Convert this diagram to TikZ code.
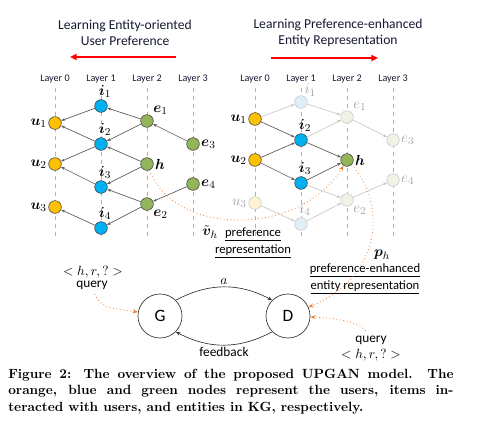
\documentclass[tikz,border=0pt]{standalone}
\usepackage{amsmath,amssymb}
\usepackage{bm}
\usepackage{fontspec}
\newfontfamily\carlito{Carlito}
\usetikzlibrary{arrows.meta}

\definecolor{ucol}{HTML}{FFC000}
\definecolor{icol}{HTML}{00B0F0}
\definecolor{ecol}{HTML}{93B55A}
\definecolor{ufade}{HTML}{FFF3D1}
\definecolor{ifade}{HTML}{E0EEF8}
\definecolor{efade}{HTML}{EEF3E3}
\definecolor{rimcol}{HTML}{404040}
\definecolor{fadecol}{HTML}{C8C8C8}
\definecolor{edgecol}{HTML}{5A5A5A}
\definecolor{hintcol}{HTML}{ED7D31}
\definecolor{textcol}{HTML}{141A30}
\definecolor{labgray}{HTML}{A6A6A6}

\tikzset{
  vtx/.style={circle, draw=rimcol, line width=0.4pt, minimum size=9.5pt, inner sep=0pt},
  user/.style={vtx, fill=ucol},
  itemv/.style={vtx, fill=icol},
  ent/.style={vtx, fill=ecol},
  fuser/.style={vtx, draw=fadecol, fill=ufade},
  fitem/.style={vtx, draw=fadecol, fill=ifade},
  fent/.style={vtx, draw=fadecol, fill=efade},
  lab/.style={font=\fontsize{11}{12}\selectfont, inner sep=1pt},
  flab/.style={lab, text=labgray},
  lnk/.style={draw=edgecol, line width=0.5pt, -{Stealth[length=3pt,width=2.2pt]}},
  flnk/.style={draw=fadecol, line width=0.5pt, -{Stealth[length=3pt,width=2.2pt]}},
  guide/.style={draw=gray!60, dashed, line width=0.4pt},
  layerlab/.style={font=\carlito\fontsize{7.6}{8}\selectfont, text=textcol},
  titletext/.style={font=\carlito\fontsize{10.2}{12}\selectfont, text=textcol, align=center},
  txt/.style={font=\carlito\fontsize{10}{12}\selectfont, text=black, align=center},
  hint/.style={draw=hintcol, dotted, line width=0.6pt, -{Stealth[length=4pt,width=3pt]}},
  agent/.style={circle, draw=black!80, line width=0.5pt, minimum size=33pt, font=\carlito\fontsize{13}{14}\selectfont},
  gd/.style={draw=black!80, line width=0.5pt, -{Stealth[length=3.5pt,width=2.6pt]}},
  capbox/.style={font=\bfseries\fontsize{10}{12.2}\selectfont, text width=334pt, align=justify, anchor=north west, inner sep=0pt}
}

\begin{document}
\begin{tikzpicture}[x=0.75pt,y=0.75pt]
  \useasboundingbox (0,0) rectangle (477,-435);

  % Titles and direction arrows
  \node[titletext] (tleft) at (125,-33) {Learning Entity-oriented\\User Preference};
  \node[titletext] (tright) at (338,-33) {Learning Preference-enhanced\\Entity Representation};
  \coordinate (la) at (176,-57);
  \coordinate (lb) at (70,-57);
  \coordinate (ra) at (271,-58);
  \coordinate (rb) at (378,-58);
  \draw[red, line width=1.4pt, -{Triangle[length=5pt,width=4.5pt]}] (la) -- (lb);
  \draw[red, line width=1.4pt, -{Triangle[length=5pt,width=4.5pt]}] (ra) -- (rb);

  % Layer columns
  \foreach \k/\lx in {0/55,1/101,2/147,3/193} {
    \node[layerlab] (Ll\k) at (\lx,-79) {Layer \k};
    \draw[guide] (Ll\k.south) -- (\lx,-238);
    \node[layerlab] (Rl\k) at (\lx+200,-79) {Layer \k};
    \draw[guide] (Rl\k.south) -- (\lx+200,-238);
  }

  % Left graph
  \node[user, label={[lab]left:$\bm{u}_1$}] (Lu1) at (55,-123) {};
  \node[user, label={[lab]left:$\bm{u}_2$}] (Lu2) at (55,-164) {};
  \node[user, label={[lab]left:$\bm{u}_3$}] (Lu3) at (55,-207) {};
  \node[itemv, label={[lab,xshift=3pt]above:$\bm{i}_1$}] (Li1) at (101,-106) {};
  \node[itemv, label={[lab,xshift=3pt]above:$\bm{i}_2$}] (Li2) at (101,-144) {};
  \node[itemv, label={[lab,xshift=3pt]above:$\bm{i}_3$}] (Li3) at (101,-187) {};
  \node[itemv, label={[lab,xshift=3pt]above:$\bm{i}_4$}] (Li4) at (101,-228) {};
  \node[ent, label={[lab]above right:$\bm{e}_1$}] (Le1) at (147,-121) {};
  \node[ent, label={[lab]right:$\bm{h}$}] (Lh) at (147,-164) {};
  \node[ent, label={[lab]below right:$\bm{e}_2$}] (Le2) at (147,-204) {};
  \node[ent, label={[lab]right:$\bm{e}_3$}] (Le3) at (193,-144) {};
  \node[ent, label={[lab]right:$\bm{e}_4$}] (Le4) at (193,-184) {};

  \draw[lnk] (Li1) -- (Lu1);
  \draw[lnk] (Le1) -- (Li1);
  \draw[lnk] (Li2) -- (Lu1);
  \draw[lnk] (Le1) -- (Li2);
  \draw[lnk] (Le3) -- (Le1);
  \draw[lnk] (Li2) -- (Lu2);
  \draw[lnk] (Lh) -- (Li2);
  \draw[lnk] (Li3) -- (Lu2);
  \draw[lnk] (Lh) -- (Li3);
  \draw[lnk] (Le2) -- (Li3);
  \draw[lnk] (Le4) -- (Le2);
  \draw[lnk] (Li4) -- (Lu3);
  \draw[lnk] (Le2) -- (Li4);

  \node[lab] (vh) at (210,-232) {$\tilde{\bm{v}}_h$};

  % Right graph
  \begin{scope}[shift={(200,4)}]
    \node[user, label={[lab]left:$\bm{u}_1$}] (Ru1) at (55,-123) {};
    \node[user, label={[lab]left:$\bm{u}_2$}] (Ru2) at (55,-164) {};
    \node[fuser, label={[flab]left:$u_3$}] (Ru3) at (55,-207) {};
    \node[fitem, label={[flab,inner sep=0pt]60:$i_1$}] (Ri1) at (101,-106) {};
    \node[itemv, label={[lab,xshift=3pt]above:$\bm{i}_2$}] (Ri2) at (101,-144) {};
    \node[itemv, label={[lab,xshift=3pt]above:$\bm{i}_3$}] (Ri3) at (101,-187) {};
    \node[fitem, label={[flab,xshift=3pt]above:$i_4$}] (Ri4) at (101,-228) {};
    \node[fent, label={[flab]above right:$e_1$}] (Re1) at (147,-121) {};
    \node[ent, label={[lab]right:$\bm{h}$}] (Rh) at (147,-164) {};
    \node[fent, label={[flab]below right:$e_2$}] (Re2) at (147,-204) {};
    \node[fent, label={[flab]right:$e_3$}] (Re3) at (193,-144) {};
    \node[fent, label={[flab]right:$e_4$}] (Re4) at (193,-184) {};
  \end{scope}

  \draw[flnk] (Ru1) -- (Ri1);
  \draw[flnk] (Ri1) -- (Re1);
  \draw[lnk] (Ru1) -- (Ri2);
  \draw[flnk] (Ri2) -- (Re1);
  \draw[flnk] (Re1) -- (Re3);
  \draw[lnk] (Ru2) -- (Ri2);
  \draw[lnk] (Ri2) -- (Rh);
  \draw[lnk] (Ru2) -- (Ri3);
  \draw[lnk] (Ri3) -- (Rh);
  \draw[flnk] (Ri3) -- (Re2);
  \draw[flnk] (Re2) -- (Re4);
  \draw[flnk] (Ru3) -- (Ri4);
  \draw[flnk] (Ri4) -- (Re2);

  % Representation labels
  \node[txt, font=\carlito\fontsize{9.5}{13}\selectfont] (pref) at (253,-243) {\underline{preference}\\\underline{representation}};
  \node[lab] (ph) at (382,-255) {$\bm{p}_h$};
  \node[txt, font=\carlito\fontsize{9.5}{13}\selectfont] (penh) at (365,-279) {\underline{preference-enhanced}\\\underline{entity representation}};

  % GAN part
  \node[agent] (G) at (160,-316) {G};
  \node[agent] (D) at (288,-316) {D};
  \draw[gd] (G.45) to[bend left=28] node[above, inner sep=1.5pt] {$a$} (D.135);
  \draw[gd] (D.225) to[bend left=28] node[below, inner sep=1.5pt, txt] {feedback} (G.-45);

  \node[txt] (hrL) at (93,-272) {$<h,r,?>$};
  \node[txt] (qL) at (92,-285) {query};
  \node[txt] (qR) at (371,-340) {query};
  \node[txt] (hrR) at (371,-355) {$<h,r,?>$};

  % Orange hints
  \draw[hint] (Lh) .. controls (175,-237) and (300,-237) .. (Rh);
  \draw[hint] (Rh) .. controls (385,-200) and (385,-275) .. (D);
  \draw[hint] (qL) .. controls (100,-310) and (120,-309) .. (G);
  \draw[hint] (qR) .. controls (360,-322) and (335,-318) .. (D);

  % Caption
  \node[capbox] (caption) at (8,-369) {Figure 2: The overview of the proposed UPGAN model. The\linebreak orange, blue and green nodes represent the users, items in-\linebreak teracted with users, and entities in KG, respectively.};
\end{tikzpicture}
\end{document}
